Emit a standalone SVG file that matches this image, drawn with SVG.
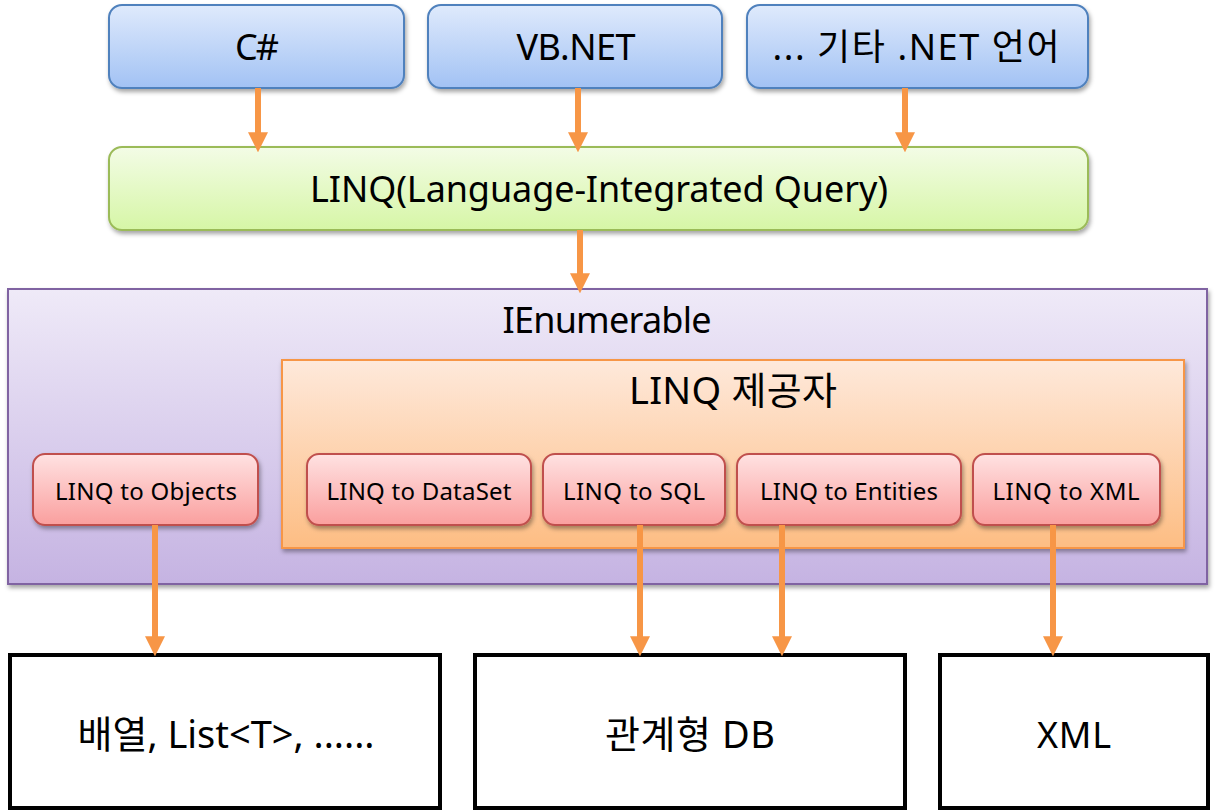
<svg xmlns="http://www.w3.org/2000/svg" width="1215" height="811" viewBox="0 0 1215 811">
<defs>
<linearGradient id="gBlue" x1="0" y1="0" x2="0" y2="1"><stop offset="0" stop-color="#dfeafc"/><stop offset="1" stop-color="#a2c2f4"/></linearGradient>
<linearGradient id="gGreen" x1="0" y1="0" x2="0" y2="1"><stop offset="0" stop-color="#f3fce6"/><stop offset="1" stop-color="#d6f6a6"/></linearGradient>
<linearGradient id="gPurple" x1="0" y1="0" x2="0" y2="1"><stop offset="0" stop-color="#efeaf8"/><stop offset="1" stop-color="#c5b3e2"/></linearGradient>
<linearGradient id="gOrange" x1="0" y1="0" x2="0" y2="1"><stop offset="0" stop-color="#fee9db"/><stop offset="1" stop-color="#fdbd83"/></linearGradient>
<linearGradient id="gPink" x1="0" y1="0" x2="0" y2="1"><stop offset="0" stop-color="#ffe2e2"/><stop offset="1" stop-color="#fa9f9e"/></linearGradient>
<filter id="sh" x="-10%" y="-20%" width="120%" height="150%"><feDropShadow dx="1.5" dy="3" stdDeviation="2" flood-color="#000" flood-opacity="0.35"/></filter>
<marker id="ah" markerUnits="userSpaceOnUse" markerWidth="20" markerHeight="20" refX="6" refY="9" orient="auto" viewBox="0 0 18 18">
<path d="M0,0 L18,9 L0,18 Z" fill="#f79646"/>
</marker>
</defs>
<style>
text{font-family:"Noto Sans","Noto Sans CJK KR",sans-serif;fill:#000;text-anchor:middle}
.blue{fill:url(#gBlue);stroke:#4f81bd;stroke-width:2}
.green{fill:url(#gGreen);stroke:#9bbb59;stroke-width:2}
.purple{fill:url(#gPurple);stroke:#8064a2;stroke-width:2}
.orange{fill:url(#gOrange);stroke:#f79646;stroke-width:2}
.pink{fill:url(#gPink);stroke:#c0504d;stroke-width:2}
.out{fill:#fff;stroke:#000;stroke-width:4}
.big{font-size:36px}
.kr{font-size:38px}
.small{font-size:24px}
.conn line{stroke:#f79646;stroke-width:6;marker-end:url(#ah)}
</style>
<g id="csharp"><rect class="blue" filter="url(#sh)" x="109" y="5" width="295" height="83" rx="13"/><text class="big" x="257" y="60" textLength="44">C#</text></g>
<g id="vbnet"><rect class="blue" filter="url(#sh)" x="428" y="5" width="294" height="83" rx="13"/><text class="big" x="576" y="60" textLength="119">VB.NET</text></g>
<g id="other"><rect class="blue" filter="url(#sh)" x="747" y="5" width="341" height="83" rx="13"/><text class="big" x="916" y="60" textLength="287">... 기타 .NET 언어</text></g>
<g id="linq"><rect class="green" filter="url(#sh)" x="109" y="147" width="979" height="83" rx="13"/><text class="big" x="599" y="202" textLength="578">LINQ(Language-Integrated Query)</text></g>
<g id="ienumerable"><rect class="purple" filter="url(#sh)" x="8" y="289" width="1199" height="295"/><text class="big" x="607" y="333" textLength="209">IEnumerable</text></g>
<g id="provider"><rect class="orange" filter="url(#sh)" x="282" y="360" width="902" height="188"/><text class="kr" x="733" y="404" textLength="208">LINQ 제공자</text></g>
<g id="toObjects"><rect class="pink" filter="url(#sh)" x="33" y="454" width="225" height="71" rx="12"/><text class="small" x="146" y="500" textLength="182">LINQ to Objects</text></g>
<g id="toDataSet"><rect class="pink" filter="url(#sh)" x="307" y="454" width="224" height="71" rx="12"/><text class="small" x="419" y="500" textLength="185">LINQ to DataSet</text></g>
<g id="toSQL"><rect class="pink" filter="url(#sh)" x="543" y="454" width="182" height="71" rx="12"/><text class="small" x="634" y="500" textLength="142">LINQ to SQL</text></g>
<g id="toEntities"><rect class="pink" filter="url(#sh)" x="737" y="454" width="224" height="71" rx="12"/><text class="small" x="849" y="500" textLength="178">LINQ to Entities</text></g>
<g id="toXML"><rect class="pink" filter="url(#sh)" x="973" y="454" width="187" height="71" rx="12"/><text class="small" x="1066" y="500" textLength="147">LINQ to XML</text></g>
<g id="arrays"><rect class="out" x="10" y="655" width="430" height="153"/><text class="kr" x="226" y="748" textLength="297">배열, List&lt;T&gt;, ......</text></g>
<g id="rdb"><rect class="out" x="475" y="655" width="430" height="153"/><text class="kr" x="690" y="748" textLength="170">관계형 DB</text></g>
<g id="xml"><rect class="out" x="940" y="655" width="268" height="153"/><text class="big" x="1074" y="748" textLength="74">XML</text></g>
<g id="connectors" class="conn">
<line x1="258" y1="88" x2="258" y2="139"/>
<line x1="578" y1="88" x2="578" y2="139"/>
<line x1="905" y1="88" x2="905" y2="139"/>
<line x1="580" y1="230" x2="580" y2="280"/>
<line x1="155" y1="525" x2="155" y2="643"/>
<line x1="640" y1="525" x2="640" y2="643"/>
<line x1="782" y1="525" x2="782" y2="643"/>
<line x1="1053" y1="525" x2="1053" y2="643"/>
</g>
</svg>
